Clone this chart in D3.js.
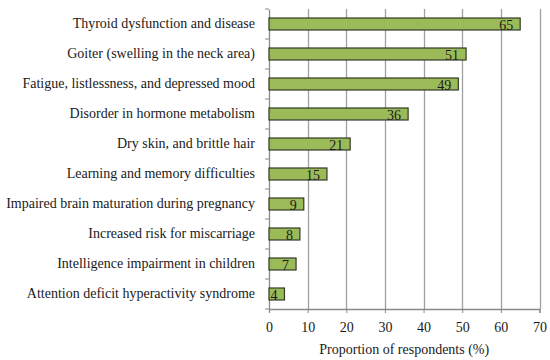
<!DOCTYPE html>
<html><head><meta charset="utf-8">
<script src="https://cdn.jsdelivr.net/npm/d3@7"></script>
<style>body{margin:0;background:#fff}svg{display:block}text{font-family:"Liberation Serif","DejaVu Serif",serif;fill:#1a1a1a}</style>
</head><body>
<svg id="c" width="550" height="360"></svg>
<script>
const categories = [
  "Thyroid dysfunction and disease",
  "Goiter (swelling in the neck area)",
  "Fatigue, listlessness, and depressed mood",
  "Disorder in hormone metabolism",
  "Dry skin, and brittle hair",
  "Learning and memory difficulties",
  "Impaired brain maturation during pregnancy",
  "Increased risk for miscarriage",
  "Intelligence impairment in children",
  "Attention deficit hyperactivity syndrome"
];
const values = [65, 51, 49, 36, 21, 15, 9, 8, 7, 4];
const xTicks = [0, 10, 20, 30, 40, 50, 60, 70];
const xTitle = "Proportion of respondents (%)";

const svg = d3.select("#c");
const m = {left: 269, right: 10, top: 9, bottom: 51};
const W = 550, H = 360;
const FS = 14;
const x = d3.scaleLinear().domain([0, 70]).range([m.left, W - m.right - 0.5]);
const y = d3.scaleBand().domain(categories).range([m.top, H - m.bottom]).paddingInner(0.6).paddingOuter(0.3);
const yb = d3.scaleBand().domain(categories).range([m.top, H - m.bottom]);

// gridlines
svg.append("g").selectAll("line").data(xTicks.slice(1)).join("line")
  .attr("x1", d => Math.round(x(d)) + 0.5).attr("x2", d => Math.round(x(d)) + 0.5)
  .attr("y1", m.top).attr("y2", H - m.bottom)
  .attr("stroke", "#a0a0a0").attr("stroke-width", 1.3);

// x axis
const xa = svg.append("g").attr("transform", `translate(0,${H - m.bottom})`)
  .call(d3.axisBottom(x).tickValues(xTicks).tickSize(4).tickPadding(9));
xa.select(".domain").attr("stroke", "#8a8a8a").attr("stroke-width", 1.3);
xa.selectAll(".tick line").attr("stroke", "#8a8a8a");
xa.selectAll("text").attr("font-size", FS);

// y axis
const ya = svg.append("g").attr("transform", `translate(${m.left},0)`)
  .call(d3.axisLeft(yb).tickSize(0).tickPadding(14));
ya.select(".domain").attr("stroke", "#8a8a8a").attr("stroke-width", 1.3);
ya.selectAll("text").attr("font-size", FS);
// boundary ticks
const bounds = categories.map(c => yb(c)).concat([H - m.bottom]);
svg.append("g").selectAll("line").data(bounds).join("line")
  .attr("x1", m.left - 4).attr("x2", m.left)
  .attr("y1", d => d).attr("y2", d => d)
  .attr("stroke", "#8a8a8a").attr("stroke-width", 1);

// bars
svg.append("g").selectAll("rect").data(values).join("rect")
  .attr("x", x(0)).attr("y", (d, i) => y(categories[i]))
  .attr("width", d => x(d) - x(0)).attr("height", y.bandwidth())
  .attr("fill", "#9bbb59").attr("stroke", "#333a28").attr("stroke-width", 1.2);

// value labels
svg.append("g").selectAll("text").data(values).join("text")
  .attr("x", d => x(d) - 7).attr("y", (d, i) => y(categories[i]) + y.bandwidth() / 2)
  .attr("dy", "0.42em").attr("text-anchor", "end").attr("font-size", FS)
  .text(d => d);

svg.append("text").attr("x", x(35)).attr("y", 354).attr("text-anchor", "middle")
  .attr("font-size", FS).text(xTitle);
</script>
</body></html>
